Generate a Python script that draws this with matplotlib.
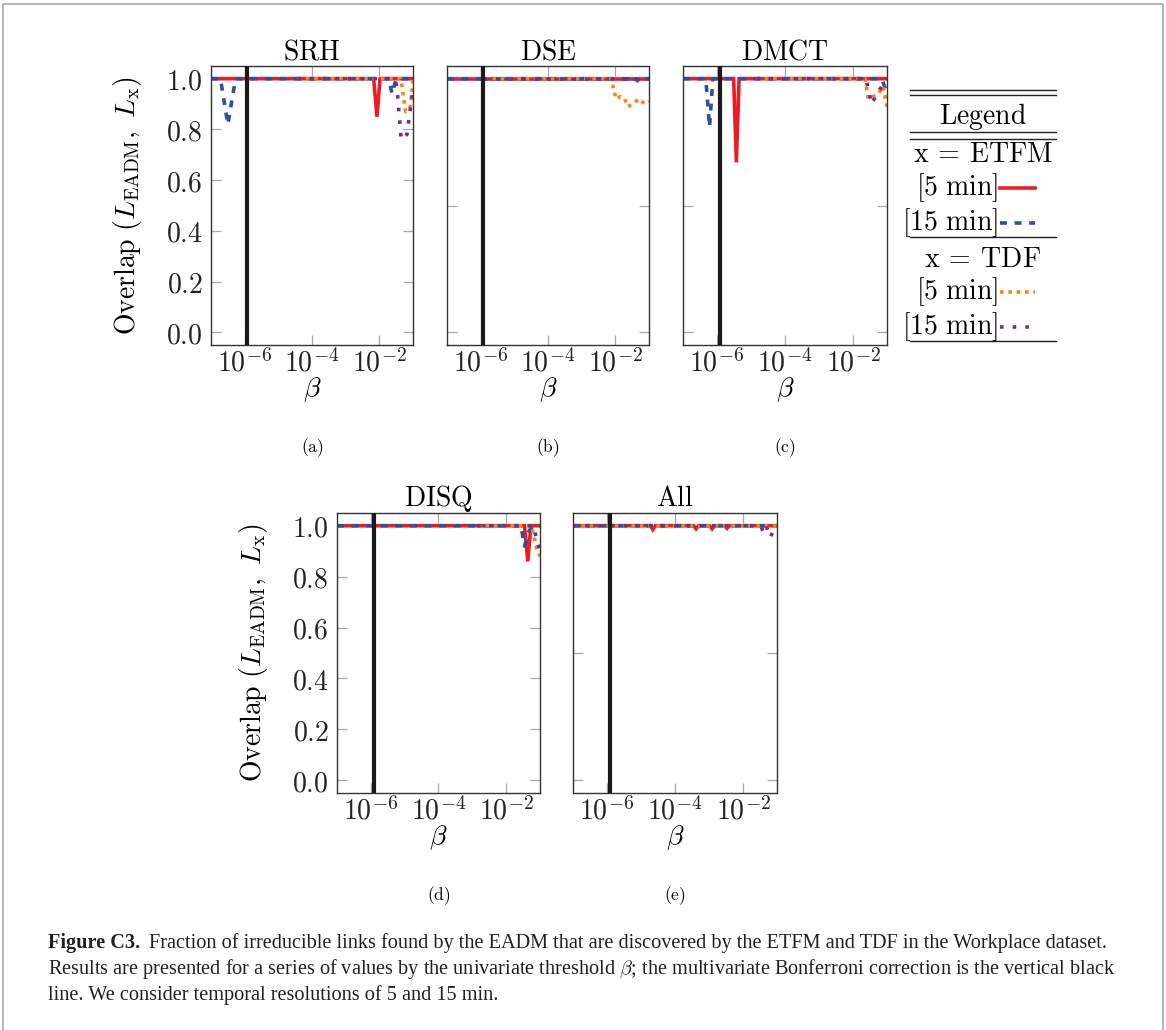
import numpy as np
import matplotlib
matplotlib.use('Agg')
import matplotlib.pyplot as plt
from matplotlib.ticker import NullLocator

plt.rcParams['mathtext.fontset'] = 'cm'
plt.rcParams['lines.scale_dashes'] = False

# figure size in pixels, everything below is placed in this frame
W, H = 1166, 1030

# Bonferroni threshold (vertical black line)
BONFERRONI = 1.2e-6

# log10(beta) and overlap for each series, panel by panel
# SRH
srh_etfm5_b = [-7.0, -2.17, -2.07, -1.98, -1.0]
srh_etfm5_y = [1.0, 1.0, 0.85, 1.0, 1.0]
srh_etfm15_b = [-7.0, -6.72, -6.50, -6.27, -1.72, -1.62, -1.50, -1.0]
srh_etfm15_y = [1.0, 1.0, 0.82, 1.0, 1.0, 0.94, 1.0, 1.0]
srh_tdf5_b = [-4.43, -1.36, -1.22, -1.08, -1.0]
srh_tdf5_y = [1.0, 1.0, 0.87, 0.89, 0.99]
srh_tdf15_b = [-4.43, -1.55, -1.48, -1.35, -1.18, -1.0]
srh_tdf15_y = [1.0, 1.0, 0.97, 0.76, 0.78, 0.96]

# DSE
dse_etfm5_b = [-7.0, -1.0]
dse_etfm5_y = [1.0, 1.0]
dse_etfm15_b = [-7.0, -1.60, -1.51, -1.40, -1.27, -1.15, -1.0]
dse_etfm15_y = [1.0, 1.0, 0.985, 1.0, 0.985, 1.0, 1.0]
dse_tdf5_b = [-5.9, -2.12, -1.98, -1.85, -1.72, -1.63, -1.48, -1.30, -1.12, -1.0]
dse_tdf5_y = [1.0, 1.0, 0.92, 0.93, 0.92, 0.89, 0.90, 0.92, 0.90, 0.91]
dse_tdf15_b = [-5.9, -1.0]
dse_tdf15_y = [1.0, 1.0]

# DMCT
dmct_etfm5_b = [-7.0, -5.51, -5.43, -5.35, -1.0]
dmct_etfm5_y = [1.0, 1.0, 0.67, 1.0, 1.0]
dmct_etfm15_b = [-7.0, -6.33, -6.22, -6.12, -1.15, -1.05, -1.0]
dmct_etfm15_y = [1.0, 1.0, 0.81, 1.0, 1.0, 0.96, 0.97]
dmct_tdf5_b = [-4.84, -1.65, -1.55, -1.40, -1.25, -1.12, -1.0]
dmct_tdf5_y = [1.0, 1.0, 0.92, 0.93, 0.94, 0.97, 0.89]
dmct_tdf15_b = [-4.84, -1.62, -1.45, -1.30, -1.15, -1.0]
dmct_tdf15_y = [1.0, 1.0, 0.90, 0.94, 0.97, 0.99]

# DISQ
disq_etfm5_b = [-7.0, -1.46, -1.36, -1.27, -1.0]
disq_etfm5_y = [1.0, 1.0, 0.86, 1.0, 1.0]
disq_etfm15_b = [-7.0, -1.56, -1.46, -1.32, -1.20, -1.0]
disq_etfm15_y = [1.0, 1.0, 0.92, 0.98, 1.0, 1.0]
disq_tdf5_b = [-2.86, -1.25, -1.18, -1.10, -1.0]
disq_tdf5_y = [1.0, 1.0, 0.96, 0.91, 0.88]
disq_tdf15_b = [-2.86, -1.20, -1.06, -1.0]
disq_tdf15_y = [1.0, 1.0, 0.93, 0.90]

# All
all_etfm5_b = [-7.0, -4.72, -4.65, -4.58, -3.45, -3.38, -3.31, -2.98, -2.91, -2.84,
               -2.54, -2.47, -2.40, -1.0]
all_etfm5_y = [1.0, 1.0, 0.985, 1.0, 1.0, 0.988, 1.0, 1.0, 0.988, 1.0,
               1.0, 0.99, 1.0, 1.0]
all_etfm15_b = [-7.0, -3.80, -3.73, -3.66, -2.16, -2.09, -2.02, -1.0]
all_etfm15_y = [1.0, 1.0, 0.99, 1.0, 1.0, 0.99, 1.0, 1.0]
all_tdf5_b = [-7.0, -1.0]
all_tdf5_y = [1.0, 1.0]
all_tdf15_b = [-7.0, -1.48, -1.40, -1.32, -1.20, -1.10, -1.0]
all_tdf15_y = [1.0, 1.0, 0.975, 1.0, 0.955, 0.98, 1.0]

titles = ['SRH', 'DSE', 'DMCT', 'DISQ', 'All']
sublabels = ['(a)', '(b)', '(c)', '(d)', '(e)']

RED = '#ec1c24'
BLUE = '#2f4f9f'
ORANGE = '#f7841f'
PURPLE = '#7a2b87'

styles = [
    dict(color=RED, lw=2.6, solid_joinstyle='miter'),
    dict(color=BLUE, lw=2.6, dashes=(5, 5.5), dash_capstyle='butt'),
    dict(color=ORANGE, lw=2.6, dashes=(2.6, 3.4), dash_capstyle='butt'),
    dict(color=PURPLE, lw=2.6, dashes=(2.6, 6.5), dash_capstyle='butt'),
]

panels = [
    [(srh_etfm5_b, srh_etfm5_y), (srh_etfm15_b, srh_etfm15_y),
     (srh_tdf5_b, srh_tdf5_y), (srh_tdf15_b, srh_tdf15_y)],
    [(dse_etfm5_b, dse_etfm5_y), (dse_etfm15_b, dse_etfm15_y),
     (dse_tdf5_b, dse_tdf5_y), (dse_tdf15_b, dse_tdf15_y)],
    [(dmct_etfm5_b, dmct_etfm5_y), (dmct_etfm15_b, dmct_etfm15_y),
     (dmct_tdf5_b, dmct_tdf5_y), (dmct_tdf15_b, dmct_tdf15_y)],
    [(disq_etfm5_b, disq_etfm5_y), (disq_etfm15_b, disq_etfm15_y),
     (disq_tdf5_b, disq_tdf5_y), (disq_tdf15_b, disq_tdf15_y)],
    [(all_etfm5_b, all_etfm5_y), (all_etfm15_b, all_etfm15_y),
     (all_tdf5_b, all_tdf5_y), (all_tdf15_b, all_tdf15_y)],
]

# left, top, right, bottom of each axes box in pixels
boxes = [(211, 66, 413, 345), (447, 66, 649, 345), (683, 66, 887, 345),
         (337, 513, 540, 793), (573, 513, 777, 793)]
with_ylabels = [True, False, False, True, False]

fig = plt.figure(figsize=(W / 100, H / 100), dpi=100)

# overlay in pixel coordinates for the free text, legend table and caption
ov = fig.add_axes([0, 0, 1, 1])
ov.set_xlim(0, W)
ov.set_ylim(H, 0)
ov.axis('off')

for k in range(5):
    l, t, r, b = boxes[k]
    ax = fig.add_axes([l / W, 1 - b / H, (r - l) / W, (b - t) / H])
    for (lb, y), st in zip(panels[k], styles):
        ax.plot(10 ** np.array(lb), y, **st)
    ax.axvline(BONFERRONI, color='#1a1a1a', lw=3.0, zorder=5)
    ax.set_xscale('log')
    ax.set_xlim(1e-7, 1e-1)
    ax.set_ylim(-0.05, 1.05)
    ax.set_xticks([1e-6, 1e-4, 1e-2])
    ax.set_xticklabels([r'$10^{-6}$', r'$10^{-4}$', r'$10^{-2}$'], fontsize=20)
    ax.xaxis.set_minor_locator(NullLocator())
    if with_ylabels[k]:
        yt = [0.0, 0.2, 0.4, 0.6, 0.8, 1.0]
        ax.set_yticks(yt)
        ax.set_yticklabels([r'$%.1f$' % v for v in yt], fontsize=20)
        ov.text(l - 83, (t + b) / 2, r'$\mathrm{Overlap}\ (L_{\mathrm{EADM}},\ L_{\mathrm{x}})$',
                rotation=90, ha='center', va='center', fontsize=20)
    else:
        ax.set_yticks([0.0, 0.5, 1.0])
        ax.set_yticklabels([])
    ax.tick_params(direction='in', length=7, width=0.9, color='#a8a8a8',
                   top=True, right=True, labelcolor='#222222')
    ax.tick_params(axis='x', pad=3)
    ax.tick_params(axis='y', pad=6)
    for sp in ax.spines.values():
        sp.set_color('#333333')
        sp.set_linewidth(1.0)
    ax.set_title(r'$\mathrm{%s}$' % titles[k], fontsize=20, pad=5)
    ov.text((l + r) / 2, b + 45, r'$\beta$', ha='center', va='center', fontsize=20)
    ov.text((l + r) / 2, b + 103, r'$\mathrm{%s}$' % sublabels[k],
            ha='center', va='center', fontsize=12.5)

# legend table on the right
tl, tr = 910, 1056
for yy in [90, 95, 132, 139, 237, 341]:
    ov.plot([tl, tr], [yy, yy], color='#222222', lw=1.0)
ov.text((tl + tr) / 2, 117, r'$\mathrm{Legend}$', ha='center', va='center', fontsize=20)
ov.text((tl + tr) / 2, 154, r'$\mathrm{x}\:=\:\mathrm{ETFM}$', ha='center', va='center', fontsize=20)
ov.text((tl + tr) / 2, 259, r'$\mathrm{x}\:=\:\mathrm{TDF}$', ha='center', va='center', fontsize=20)
rows = [(188, r'$[5\ \mathrm{min}]$', styles[0]), (223, r'$[15\ \mathrm{min}]$', styles[1]),
        (292, r'$[5\ \mathrm{min}]$', styles[2]), (327, r'$[15\ \mathrm{min}]$', styles[3])]
for yy, txt, st in rows:
    ov.text(998, yy, txt, ha='right', va='center', fontsize=20)
    ov.plot([1000, 1035], [yy, yy], **st)

# page frame
ov.plot([3, 3, 1163, 1163], [H, 4, 4, H], color='#aaaaaa', lw=1.2)

# caption
cap_font = dict(family='Liberation Serif', fontsize=14.6, color='#231f20')
bold = ov.text(48, 943, 'Figure C3.', fontweight='bold', va='center', **cap_font)
fig.canvas.draw()
bb = bold.get_window_extent(fig.canvas.get_renderer())
ov.text(bb.x1 + 9, 943,
        'Fraction of irreducible links found by the EADM that are discovered by the ETFM and TDF in the Workplace dataset.',
        va='center', **cap_font)
ov.text(48, 969,
        r'Results are presented for a series of values by the univariate threshold $\beta$; the multivariate Bonferroni correction is the vertical black',
        va='center', **cap_font)
ov.text(48, 995, 'line. We consider temporal resolutions of 5 and 15 min.', va='center', **cap_font)

fig.savefig('out.png', dpi=100)
